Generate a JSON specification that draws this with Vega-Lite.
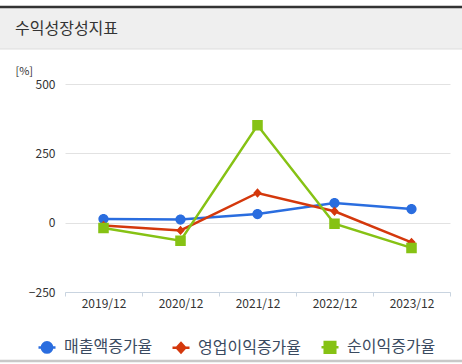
{
  "$schema": "https://vega.github.io/schema/vega-lite/v6.json",
  "width": 385,
  "height": 208,
  "autosize": "none",
  "padding": {"left": 65, "top": 84, "right": 12, "bottom": 72},
  "background": "white",
  "config": {
    "font": "Noto Sans CJK KR",
    "view": {"stroke": null}
  },
  "data": {"values": [
    {"year": "2019/12", "series": "매출액증가율", "value": 13},
    {"year": "2020/12", "series": "매출액증가율", "value": 11},
    {"year": "2021/12", "series": "매출액증가율", "value": 31},
    {"year": "2022/12", "series": "매출액증가율", "value": 71},
    {"year": "2023/12", "series": "매출액증가율", "value": 49},
    {"year": "2019/12", "series": "영업이익증가율", "value": -10},
    {"year": "2020/12", "series": "영업이익증가율", "value": -28},
    {"year": "2021/12", "series": "영업이익증가율", "value": 107},
    {"year": "2022/12", "series": "영업이익증가율", "value": 41},
    {"year": "2023/12", "series": "영업이익증가율", "value": -71},
    {"year": "2019/12", "series": "순이익증가율", "value": -19},
    {"year": "2020/12", "series": "순이익증가율", "value": -65},
    {"year": "2021/12", "series": "순이익증가율", "value": 351},
    {"year": "2022/12", "series": "순이익증가율", "value": -4},
    {"year": "2023/12", "series": "순이익증가율", "value": -91}
  ]},
  "layer": [
    {
      "data": {"values": [{}]},
      "mark": {"type": "rect", "fill": "#efefef", "clip": false},
      "encoding": {
        "x": {"value": -65}, "x2": {"value": 397},
        "y": {"value": -76}, "y2": {"value": -35}
      }
    },
    {
      "data": {"values": [{}]},
      "mark": {"type": "rule", "stroke": "#333333", "strokeWidth": 2.5, "clip": false},
      "encoding": {
        "x": {"value": -65}, "x2": {"value": 397},
        "y": {"value": -77}
      }
    },
    {
      "data": {"values": [{}]},
      "mark": {"type": "rule", "stroke": "#dddddd", "strokeWidth": 1, "clip": false},
      "encoding": {
        "x": {"value": -65}, "x2": {"value": 397},
        "y": {"value": -35}
      }
    },
    {
      "data": {"values": [{}]},
      "mark": {"type": "rule", "stroke": "#c8c8c8", "strokeWidth": 2.5, "clip": false},
      "encoding": {
        "x": {"value": -65}, "x2": {"value": 397},
        "y": {"value": 277}
      }
    },
    {
      "data": {"values": [{}]},
      "mark": {"type": "text", "text": "수익성장성지표", "fontSize": 16, "color": "#333333", "align": "left", "baseline": "middle", "clip": false},
      "encoding": {
        "x": {"value": -50}, "y": {"value": -55}
      }
    },
    {
      "mark": {"type": "line", "strokeWidth": 2.5},
      "encoding": {
        "x": {
          "field": "year", "type": "nominal", "sort": null,
          "scale": {"type": "band", "paddingInner": 0, "paddingOuter": 0},
          "axis": {
            "title": null, "labelAngle": 0, "labelFontSize": 12, "labelColor": "#333333",
            "domainColor": "#c9d4e0", "tickColor": "#c9d4e0", "tickSize": 4, "tickBand": "extent",
            "labelPadding": 2, "grid": false
          }
        },
        "y": {
          "field": "value", "type": "quantitative",
          "scale": {"domain": [-250, 500], "nice": false},
          "axis": {
            "values": [-250, 0, 250, 500], "title": "[%]", "titleAngle": 0, "titleFontSize": 11,
            "titleFontWeight": "normal", "titleColor": "#333333", "titleX": -50, "titleY": -13,
            "titleAlign": "left", "titleBaseline": "middle",
            "labelFontSize": 12, "labelColor": "#333333", "labelPadding": 10,
            "ticks": false, "domain": false, "gridColor": "#e2e2e2"
          }
        },
        "color": {
          "field": "series", "type": "nominal",
          "scale": {
            "domain": ["매출액증가율", "영업이익증가율", "순이익증가율"],
            "range": ["#2a6ddf", "#d4380c", "#86c214"]
          },
          "legend": {
            "title": null, "orient": "none", "legendX": -28, "legendY": 253,
            "direction": "horizontal", "labelFontSize": 16, "labelColor": "#3a4a60",
            "symbolSize": 289, "labelOffset": 7, "columnPadding": 14,
            "symbolStrokeWidth": 2.5,
            "encode": {"symbols": {"update": {"stroke": {"scale": "color", "field": "value"}, "strokeWidth": {"value": 2.5}}}}
          }
        }
      }
    },
    {
      "mark": {"type": "point", "filled": true, "opacity": 1, "size": 289},
      "encoding": {
        "x": {"field": "year", "type": "nominal", "sort": null},
        "y": {"field": "value", "type": "quantitative"},
        "color": {"field": "series", "type": "nominal"},
        "shape": {
          "field": "series", "type": "nominal",
          "scale": {
            "domain": ["매출액증가율", "영업이익증가율", "순이익증가율"],
            "range": [
              "M-1,0H1M-0.6,0A0.6,0.6,0,1,1,0.6,0A0.6,0.6,0,1,1,-0.6,0Z",
              "M-1,0H1M0,-0.55L0.5,0L0,0.55L-0.5,0Z",
              "M-1,0H1M-0.62,-0.62H0.62V0.62H-0.62Z"
            ]
          },
          "legend": {
            "title": null, "orient": "none", "legendX": -28, "legendY": 253,
            "direction": "horizontal", "labelFontSize": 16, "labelColor": "#3a4a60",
            "symbolSize": 289, "labelOffset": 7, "columnPadding": 14,
            "symbolStrokeWidth": 2.5,
            "encode": {"symbols": {"update": {"stroke": {"scale": "color", "field": "value"}, "strokeWidth": {"value": 2.5}}}}
          }
        }
      }
    }
  ]
}
